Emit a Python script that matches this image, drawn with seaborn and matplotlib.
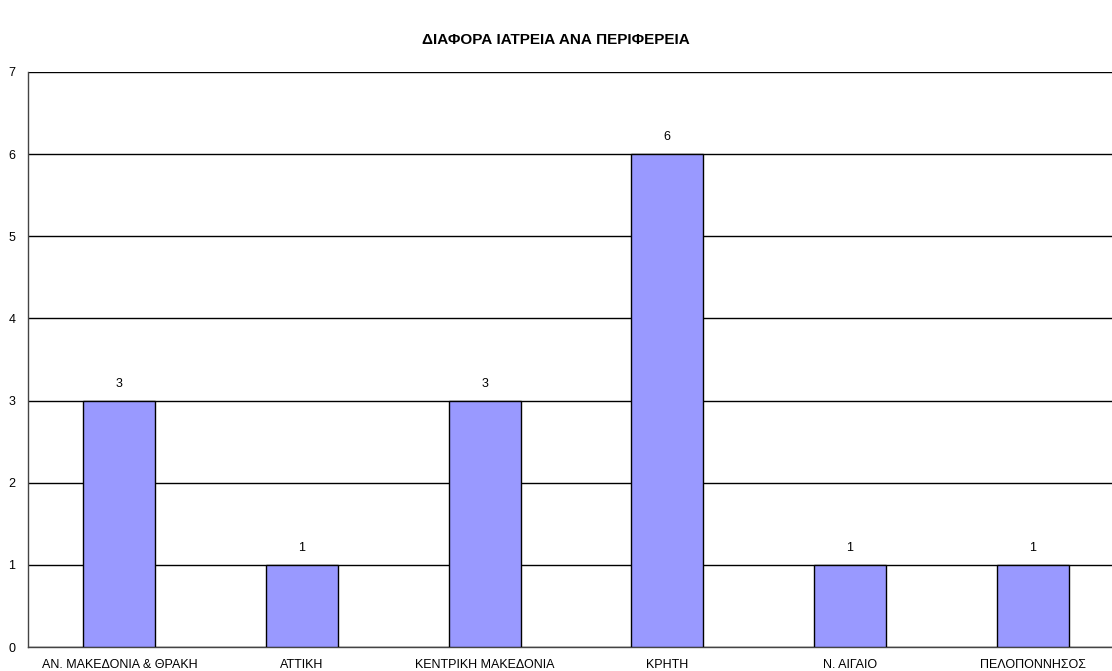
import matplotlib
matplotlib.use("Agg")
import matplotlib.pyplot as plt
import seaborn as sns
import numpy as np
import pandas as pd

categories = ["ΑΝ. ΜΑΚΕΔΟΝΙΑ & ΘΡΑΚΗ", "ΑΤΤΙΚΗ", "ΚΕΝΤΡΙΚΗ ΜΑΚΕΔΟΝΙΑ",
              "ΚΡΗΤΗ", "Ν. ΑΙΓΑΙΟ", "ΠΕΛΟΠΟΝΝΗΣΟΣ"]
values = [3, 1, 3, 6, 1, 1]
title = "ΔΙΑΦΟΡΑ ΙΑΤΡΕΙΑ ΑΝΑ ΠΕΡΙΦΕΡΕΙΑ"

sns.set_style("white")
plt.rcParams['font.family'] = ['Liberation Sans', 'DejaVu Sans']
plt.rcParams['text.color'] = 'black'
plt.rcParams['xtick.color'] = 'black'
plt.rcParams['ytick.color'] = 'black'

fig = plt.figure(figsize=(11.12, 6.71), dpi=100)
ax = fig.add_axes([28/1112, 24/671, 1096/1112, 575/671])

df = pd.DataFrame({"cat": categories, "val": values})
sns.barplot(data=df, x="cat", y="val", color="#9999FF", saturation=1,
            width=0.395, edgecolor="#000000", linewidth=1, ax=ax, zorder=3)

ax.set_xlim(-0.5, len(categories) - 0.5)
ax.set_ylim(0, 7)
ax.set_yticks(range(0, 8))
ax.yaxis.grid(True, color="black", linewidth=1)
ax.set_axisbelow(True)
for s in ["top", "right"]:
    ax.spines[s].set_visible(False)
for s in ["left", "bottom"]:
    ax.spines[s].set_color("#444444")
    ax.spines[s].set_linewidth(1)

ax.set_xlabel("")
ax.set_ylabel("")
ax.tick_params(axis="x", which="major", length=0, labelsize=9, pad=9, labelcolor="black")
ax.set_xticks(np.arange(0.5, len(categories) - 0.5, 1), minor=True)
ax.tick_params(axis="x", which="minor", length=4, width=1, color="#444444", direction="out")
ax.tick_params(axis="y", length=4, width=1, color="#444444", labelsize=9, pad=5,
               direction="out", labelcolor="black")

for i, v in enumerate(values):
    ax.text(i, v + 0.13, str(v), ha="center", va="bottom", fontsize=9, color="black")

fig.text(0.5, 1 - 40/671, title, ha="center", va="center", fontsize=11,
         fontweight="bold", color="black")

fig.savefig("out.png", dpi=100)
